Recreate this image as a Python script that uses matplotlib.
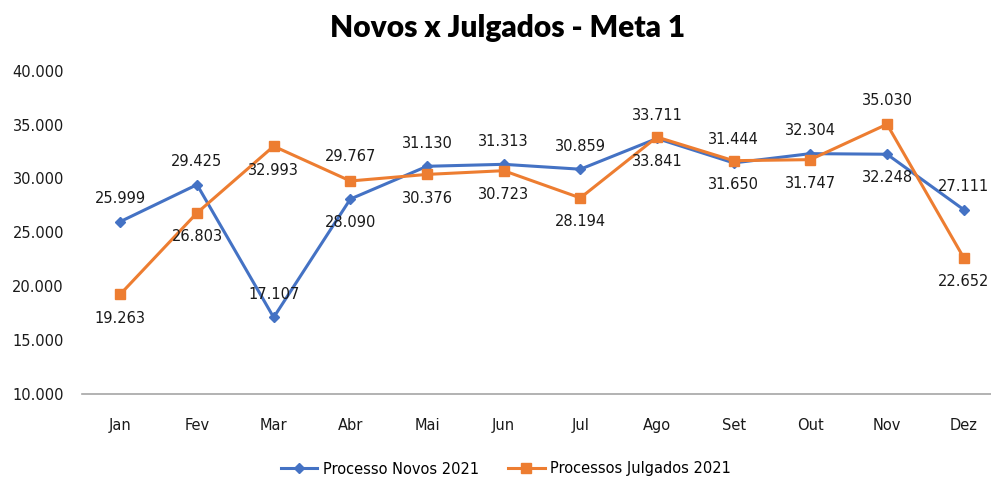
import matplotlib.pyplot as plt
from matplotlib.lines import Line2D

meses = ["Jan", "Fev", "Mar", "Abr", "Mai", "Jun", "Jul", "Ago", "Set", "Out", "Nov", "Dez"]
novos = [25999, 29425, 17107, 28090, 31130, 31313, 30859, 33711, 31444, 32304, 32248, 27111]
julgados = [19263, 26803, 32993, 29767, 30376, 30723, 28194, 33841, 31650, 31747, 35030, 22652]
# onde o rótulo fica: 1 = acima, -1 = abaixo
pos_novos = [1, 1, 1, -1, 1, 1, 1, 1, 1, 1, -1, 1]
pos_julg = [-1, -1, -1, 1, -1, -1, -1, -1, -1, -1, 1, -1]

azul = "#4472C4"
laranja = "#ED7D31"

plt.rcParams['font.family'] = ['DejaVu Sans']

fig = plt.figure(figsize=(9.91, 4.8), dpi=100)
ax = fig.add_axes([82 / 991, 1 - 394 / 480, 920 / 991, (394 - 70.7) / 480])

x = list(range(len(meses)))
ax.plot(x, novos, color=azul, lw=2.2, marker="D", ms=5.5, label="Processo Novos 2021")
ax.plot(x, julgados, color=laranja, lw=2.2, marker="s", ms=7.5, label="Processos Julgados 2021")

def fmt(v):
    return f"{v:,}".replace(",", ".")

for i in x:
    ax.annotate(fmt(novos[i]), (i, novos[i]), xytext=(0, 23 * pos_novos[i]),
                textcoords="offset pixels", ha="center", va="center", fontsize=10.5, color="#1a1a1a")
    ax.annotate(fmt(julgados[i]), (i, julgados[i]), xytext=(0, 24 * pos_julg[i]),
                textcoords="offset pixels", ha="center", va="center", fontsize=10.5, color="#1a1a1a")

ax.set_xlim(-0.5, 11.5)
ax.set_ylim(10000, 40000)
ax.set_yticks(range(10000, 40001, 5000))
ax.set_yticklabels([fmt(v) for v in range(10000, 40001, 5000)])
ax.set_xticks(x)
ax.set_xticklabels(meses)
ax.tick_params(length=0, labelsize=10.5, colors="#1a1a1a")
ax.tick_params(axis="y", pad=13)
ax.tick_params(axis="x", pad=17)
for s in ["top", "right", "left"]:
    ax.spines[s].set_visible(False)
ax.spines["bottom"].set_color("#a6a6a6")
ax.spines["bottom"].set_linewidth(1.2)

fig.text(508 / 991, 1 - 28 / 480, "Novos x Julgados - Meta 1", ha="center", va="center",
         fontsize=21.5, fontweight="heavy", family="Lato")

handles = [Line2D([], [], color=azul, lw=2.2, marker="D", ms=5.5),
           Line2D([], [], color=laranja, lw=2.2, marker="s", ms=7.5)]
fig.legend(handles, ["Processo Novos 2021", "Processos Julgados 2021"], loc="center",
           bbox_to_anchor=(506 / 991, 1 - 469 / 480), ncol=2, frameon=False, fontsize=10.5,
           handlelength=2.5, columnspacing=2.0, handletextpad=0.4)

fig.savefig("out.png", dpi=100)
